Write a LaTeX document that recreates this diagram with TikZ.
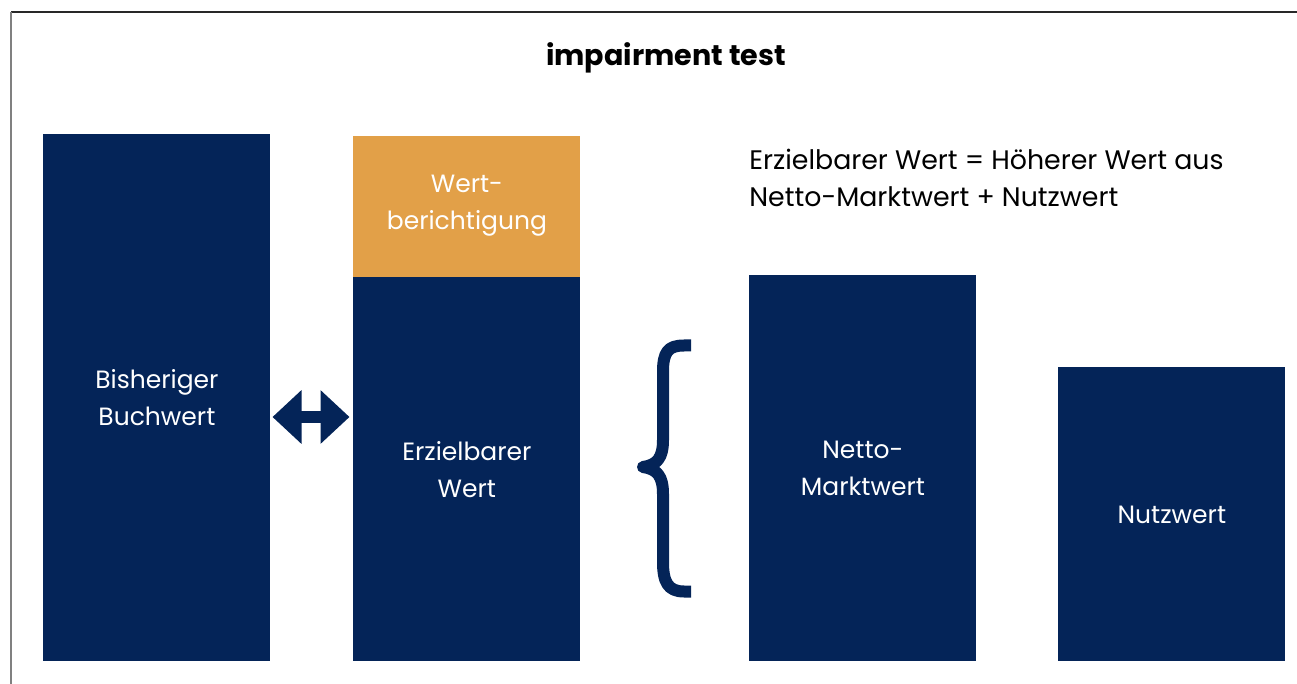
\documentclass[tikz,border=0pt]{standalone}
\usepackage{fontspec}
\setmainfont{Poppins}
\usetikzlibrary{positioning,arrows.meta}
\definecolor{navy}{RGB}{4,36,88}
\definecolor{ochre}{RGB}{226,160,72}
\definecolor{frame}{RGB}{40,40,40}
\tikzset{
  box/.style={fill=navy,draw=none,text=white,align=center,inner sep=0pt,
    minimum width=113.5pt,anchor=north west,
    font=\fontsize{12.5}{18.5}\selectfont},
}

\begin{document}
\begin{tikzpicture}[x=0.5pt,y=-0.5pt]
  \useasboundingbox (0,0) rectangle (1297,684);
  \draw[frame,line width=1.2pt] (1297,12) -- (11,12);
  \draw[gray,line width=1.2pt] (11,12) -- (11,684);
  \node (title) at (666,58) {\fontsize{14.3}{17}\selectfont\bfseries impairment test};

  \node[box,minimum height=263.5pt] (buch) at (43,134) {Bisheriger\\Buchwert};
  \node[box,minimum height=192pt] (erz) at (353,277) {Erzielbarer\\Wert};
  \node[box,fill=ochre,minimum height=70.5pt,anchor=south] (wb) at (erz.north)
    {Wert-\\berichtigung};
  \node[box,minimum height=193pt] (netto) at (749,275) {Netto-\\Marktwert};
  \node[box,minimum height=147pt] (nutz) at (1058,367) {Nutzwert};

  \node[anchor=north west,inner sep=0pt,align=left,
    font=\fontsize{13.4}{18.5}\selectfont] (formel) at (749,149)
    {Erzielbarer Wert = Höherer Wert aus\\Netto-Marktwert + Nutzwert};

  \coordinate (al) at (272.5,417);
  \coordinate (ar) at (349.5,417);
  \draw[navy,line width=6pt,
    {Triangle[length=14.5pt,width=26pt]}-{Triangle[length=14.5pt,width=26pt]}]
    (al) -- (ar);

  \draw[navy,line width=6pt,line join=round]
    (691,345.5) -- (684,345.5) .. controls (668,345.5) and (663,352) .. (663,372)
    -- (663,440) .. controls (663,458) and (657,465) .. (643,467)
    .. controls (657,469) and (663,476) .. (663,494)
    -- (663,562) .. controls (663,582) and (668,591.5) .. (684,591.5) -- (691,591.5);
\end{tikzpicture}
\end{document}
